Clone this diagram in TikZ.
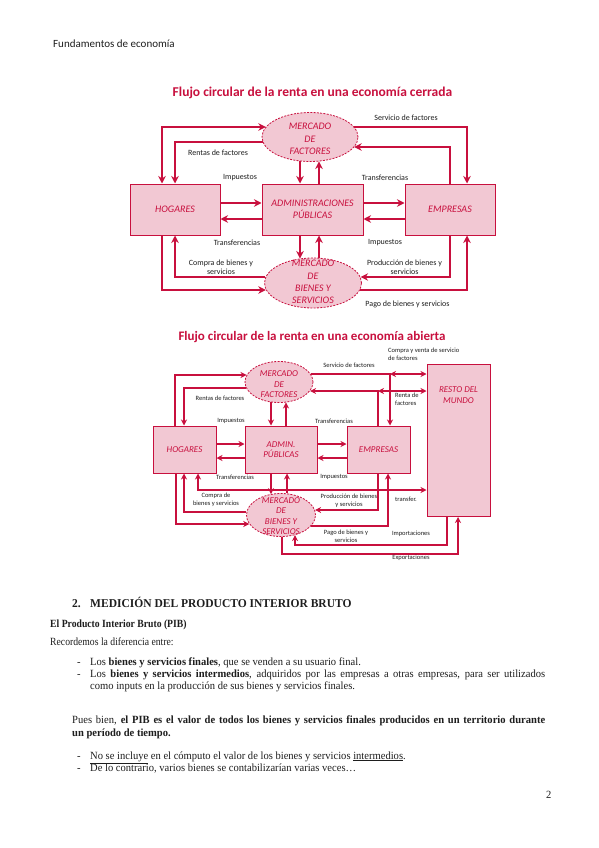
\documentclass[tikz,border=0pt]{standalone}
\usepackage{fontspec}
\setmainfont{Liberation Serif}
\newfontfamily\calf{Carlito}
\newfontfamily\bodyf[FakeStretch=0.96]{Liberation Serif}
\newfontfamily\bodyn[FakeStretch=0.88]{Liberation Serif}
\newfontfamily\headf[FakeStretch=0.96]{Liberation Serif}
\usetikzlibrary{shapes.geometric,arrows.meta}
\definecolor{rr}{RGB}{200,16,62}
\definecolor{pk}{RGB}{242,200,211}
\definecolor{txt}{RGB}{30,30,30}
\begin{document}
\begin{tikzpicture}[x=1pt,y=-1pt,
  boxa/.style={draw=rr, fill=pk, line width=1pt, text=rr, font=\calf\itshape\fontsize{10}{12}\selectfont, align=center, inner sep=0pt},
  boxb/.style={boxa, font=\calf\itshape\fontsize{9}{10.5}\selectfont},
  ella/.style={ellipse, draw=rr, dash pattern=on 2pt off 1.3pt, fill=pk, line width=0.8pt, inner sep=0pt},
  etxa/.style={text=rr, font=\calf\itshape\fontsize{10}{12.3}\selectfont, align=center, inner sep=0pt},
  etxb/.style={text=rr, font=\calf\itshape\fontsize{9}{10.5}\selectfont, align=center, inner sep=0pt},
  ara/.style={draw=rr, line width=1.8pt, >={Stealth[length=7.5pt,width=7.5pt]}},
  arb/.style={draw=rr, line width=1.4pt, >={Stealth[length=6pt,width=6pt]}},
  lbla/.style={font=\calf\fontsize{8}{9}\selectfont, text=txt, align=center, inner sep=0pt},
  lblb/.style={font=\calf\fontsize{6.5}{8}\selectfont, text=txt, align=center, inner sep=0pt},
  ttl/.style={font=\calf\bfseries\fontsize{13.5}{16}\selectfont, text=rr, inner sep=0pt},
  body/.style={font=\bodyf\fontsize{11}{13}\selectfont, text=txt, anchor=base west, inner sep=0pt},
]
\useasboundingbox (0,0) rectangle (599,848);
\fill[white] (0,0) rectangle (599,848);

% header
\node[font=\calf\fontsize{11}{13}\selectfont, text=txt, anchor=base west, inner sep=0pt] (hdr) at (53,48) {Fundamentos de economía};

% ================= Diagram 1 =================
\node[ttl] (t1) at (312.5,93) {Flujo circular de la renta en una economía cerrada};

\node[ella, minimum width=96, minimum height=49] (F1) at (310,137) {};
\node[etxa] (F1t) at (310,139) {MERCADO\\DE\\FACTORES};
\node[ella, minimum width=97, minimum height=50] (B1) at (313,283) {};
\node[etxa] (B1t) at (313,282) {MERCADO\\DE\\BIENES Y\\SERVICIOS};
\node[boxa, minimum width=90, minimum height=51] (H1) at (175,209.5) {HOGARES};
\node[boxa, minimum width=101, minimum height=51] (A1) at (312.5,209.5) {ADMINISTRACIONES\\PÚBLICAS};
\node[boxa, minimum width=90, minimum height=51] (E1) at (450,209.5) {EMPRESAS};

\begin{scope}[ara]
\draw[<->] (H1.north -| 162,0) |- (F1.167 |- 0,127);
\draw[->] (F1.186 |- 0,142) -| (H1.north -| 175,0);
\draw[->] (F1.13 |- 0,127) -| (E1.north -| 467,0);
\draw[->] (E1.north -| 450,0) |- (F1.347 |- 0,147);
\draw[->] (F1.247 -| 300,0) -- (A1.north -| 300,0);
\draw[->] (A1.north -| 319,0) -- (F1.290 -| 319,0);
\draw[->] (H1.east |- 0,203) -- (A1.west |- 0,203);
\draw[->] (A1.west |- 0,219) -- (H1.east |- 0,219);
\draw[->] (A1.east |- 0,203) -- (E1.west |- 0,203);
\draw[->] (E1.west |- 0,219) -- (A1.east |- 0,219);
\draw[->] (A1.south -| 300,0) -- (B1.118 -| 300,0);
\draw[->] (B1.76 -| 319,0) -- (A1.south -| 319,0);
\draw[->] (H1.south -| 162,0) |- (B1.188 |- 0,290);
\draw[->] (B1.173 |- 0,277) -| (H1.south -| 175,0);
\draw[->] (E1.south -| 450,0) |- (B1.7 |- 0,277);
\draw[->] (B1.352 |- 0,290) -| (E1.south -| 467,0);
\end{scope}

\node[lbla] (l1a) at (406,118) {Servicio de factores};
\node[lbla] (l1b) at (218,153) {Rentas de factores};
\node[lbla] (l1c) at (240,178) {Impuestos};
\node[lbla] (l1d) at (385,178) {Transferencias};
\node[lbla] (l1e) at (237,243) {Transferencias};
\node[lbla] (l1f) at (385,243) {Impuestos};
\node[lbla] (l1g) at (221,267.5) {Compra de bienes y\\servicios};
\node[lbla] (l1h) at (404.5,267.5) {Producción de bienes y\\servicios};
\node[lbla] (l1i) at (407.5,304) {Pago de bienes y servicios};

% ================= Diagram 2 =================
\node[ttl, font=\calf\bfseries\fontsize{13}{15}\selectfont] (t2) at (312,337) {Flujo circular de la renta en una economía abierta};

\node[ella, minimum width=68, minimum height=41] (F2) at (279,382) {};
\node[etxb] (F2t) at (279,384.5) {MERCADO\\DE\\FACTORES};
\node[ella, minimum width=69, minimum height=43] (B2) at (281,515) {};
\node[etxb] (B2t) at (281,516) {MERCADO\\DE\\BIENES Y\\SERVICIOS};
\node[boxb, minimum width=63, minimum height=47] (H2) at (184.5,449.5) {HOGARES};
\node[boxb, minimum width=72, minimum height=47] (A2) at (281,449.5) {ADMIN.\\PÚBLICAS};
\node[boxb, minimum width=63, minimum height=47] (E2) at (378.5,449.5) {EMPRESAS};
\node[boxb, minimum width=63, minimum height=152, anchor=north] (R2) at (458.5,364) {};
\node[etxb] (R2t) at (458.5,395) {RESTO DEL\\MUNDO};

\coordinate (j1) at (390,374);
\coordinate (j2) at (378,391);
\coordinate (imp) at (295,545);
\coordinate (exq) at (282,554);
\begin{scope}[arb]
\draw[->] (H2.north -| 175,0) |- (F2.168 |- 0,375);
\draw[->] (F2.190 |- 0,388) -| (H2.north -| 184,0);
\draw[->] (F2.14 |- 0,374) -| (E2.north -| 390,0);
\draw[<->] (j1) -- (R2.west |- j1);
\draw[->] (E2.north -| 378,0) |- (F2.344 |- 0,391);
\draw[<->] (j2) -- (R2.west |- j2);
\draw[->] (F2.248 -| 271,0) -- (A2.north -| 271,0);
\draw[->] (A2.north -| 286,0) -- (F2.289 -| 286,0);
\draw[->] (H2.east |- 0,444) -- (A2.west |- 0,444);
\draw[->] (A2.west |- 0,458) -- (H2.east |- 0,458);
\draw[->] (A2.east |- 0,444) -- (E2.west |- 0,444);
\draw[->] (E2.west |- 0,458) -- (A2.east |- 0,458);
\draw[->] (A2.south -| 271,0) -- (B2.116 -| 271,0);
\draw[->] (B2.74 -| 287,0) -- (A2.south -| 287,0);
\draw[<->] (H2.south -| 198,0) |- (R2.west |- 0,490);
\draw[->] (H2.south -| 176,0) |- (B2.196 |- 0,524);
\draw[->] (B2.175 |- 0,512) -| (H2.south -| 184,0);
\draw[->] (E2.south -| 378,0) |- (B2.8 |- 0,510);
\draw[->] (B2.340 |- 0,526) -| (E2.south -| 388,0);
\draw[->] (R2.south -| 447,0) |- (imp) -- (B2.305 -| imp);
\draw[->] (B2.273 -| exq) -- (exq) -| (R2.south -| 458,0);
\end{scope}

\node[lblb] (l2a) at (220,398) {Rentas de factores};
\node[lblb] (l2b) at (231,421) {Impuestos};
\node[lblb] (l2c) at (349,365) {Servicio de factores};
\node[lblb, align=left, anchor=west] (l2d) at (388,354) {Compra y venta de servicio\\de factores};
\node[lblb, align=left, anchor=west] (l2e) at (395,399) {Renta de\\factores};
\node[lblb] (l2f) at (334,421) {Transferencias};
\node[lblb] (l2g) at (235,477) {Transferencias};
\node[lblb] (l2h) at (334,477) {Impuestos};
\node[lblb] (l2i) at (216,499.5) {Compra de\\bienes y servicios};
\node[lblb] (l2j) at (349,500.5) {Producción de bienes\\y servicios};
\node[lblb] (l2k) at (406,499) {transfer.};
\node[lblb] (l2l) at (346,536) {Pago de bienes y\\servicios};
\node[lblb] (l2m) at (411,534) {Importaciones};
\node[lblb] (l2n) at (411,558) {Exportaciones};

% ================= Text =================
\node[body, font=\headf\bfseries\fontsize{12}{14}\selectfont] (s1) at (72,607) {2.};
\node[body, font=\headf\bfseries\fontsize{12}{14}\selectfont] (s2) at (90,607) {MEDICIÓN DEL PRODUCTO INTERIOR BRUTO};
\node[body, font=\bodyn\fontsize{11}{13}\selectfont] (p1) at (50,627) {\bfseries El Producto Interior Bruto (PIB)};
\node[body, font=\bodyn\fontsize{11}{13}\selectfont] (p2) at (50,645) {Recordemos la diferencia entre:};
\node[body] (d1) at (77,665) {-};
\node[body] (p3) at (90,665) {Los \textbf{bienes y servicios finales}, que se venden a su usuario final.};
\node[body] (d2) at (77,677) {-};
\node[body] (p4) at (90,677) {\makebox[455pt][s]{Los \textbf{bienes y servicios intermedios}, adquiridos por las empresas a otras empresas, para ser utilizados}};
\node[body] (p5) at (90,689) {como inputs en la producción de sus bienes y servicios finales.};
\node[body] (p6) at (72,723) {\makebox[473pt][s]{Pues bien, \textbf{el PIB es el valor de todos los bienes y servicios finales producidos en un territorio durante}}};
\node[body] (p7) at (72,736) {\textbf{un período de tiempo.}};
\node[body] (d3) at (77,759) {-};
\node[body] (p8) at (90,759) {\underline{No se incluye} en el cómputo el valor de los bienes y servicios \underline{intermedios}.};
\node[body] (d4) at (77,771) {-};
\node[body] (p9) at (90,771) {De lo contrario, varios bienes se contabilizarían varias veces…};
\node[body] (pg) at (546,798) {2};
\end{tikzpicture}
\end{document}
